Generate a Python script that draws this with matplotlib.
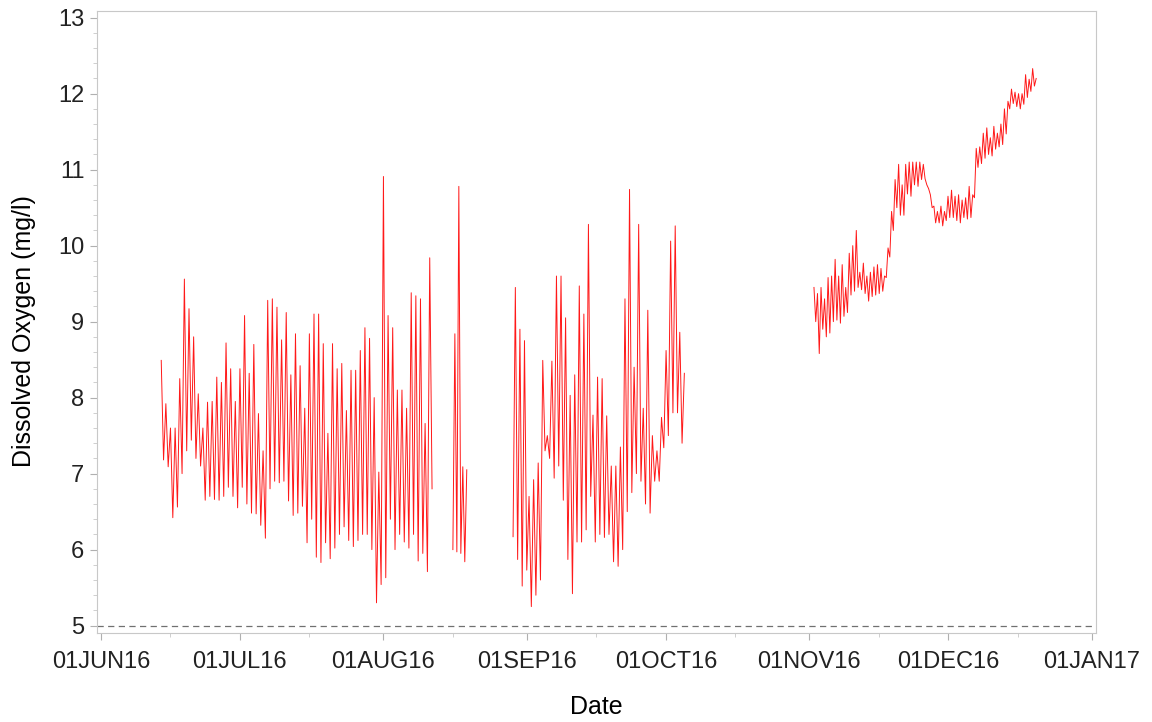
import matplotlib
matplotlib.use("Agg")
import numpy as np
import pandas as pd
from matplotlib import pyplot as plt
import matplotlib.dates as mdates
from matplotlib.ticker import MultipleLocator

plt.rcParams['font.family'] = ['Liberation Sans', 'DejaVu Sans']

# Segment 1: 14JUN16 - 11AUG16, daily highs / lows (mg/l)
seg1_start, seg1_end = "2016-06-14", "2016-08-11 12:00"
seg1_high = [8.49, 7.92, 7.6, 7.6, 8.25, 9.56, 9.17, 8.8, 8.05, 7.6,
             7.94, 7.95, 8.27, 8.2, 8.72, 8.38, 7.95, 8.38, 9.08, 8.32,
             8.7, 7.79, 7.3, 9.28, 9.3, 9.19, 8.76, 9.12, 8.3, 8.84,
             8.42, 7.86, 8.84, 9.1, 9.1, 8.71, 7.53, 8.71, 8.38, 8.45,
             7.83, 8.36, 8.36, 8.62, 8.92, 8.78, 8.0, 7.02, 10.91, 9.08,
             8.92, 8.1, 8.1, 7.86, 9.38, 9.34, 9.3, 7.66, 9.84]
seg1_low = [7.18, 7.09, 6.42, 6.56, 7.0, 7.3, 7.44, 7.2, 7.1, 6.65,
            6.7, 6.66, 6.65, 6.7, 6.82, 6.7, 6.55, 6.82, 6.6, 6.48,
            6.47, 6.32, 6.15, 6.8, 6.9, 6.88, 6.9, 6.64, 6.45, 6.48,
            6.57, 6.09, 6.4, 5.9, 5.83, 6.09, 5.88, 6.02, 6.2, 6.3,
            6.12, 6.04, 6.12, 6.2, 6.2, 6.0, 5.3, 5.54, 5.63, 6.4,
            6.0, 6.2, 6.1, 6.02, 6.2, 5.85, 5.95, 5.71, 6.8]

# Segment 2: short burst mid August
seg2_start, seg2_end = "2016-08-16", "2016-08-19"
seg2_vals = [6.0, 8.84, 5.97, 10.78, 5.95, 7.09, 5.84, 7.05]

# Segment 3: 29AUG16 - 05OCT16
seg3_start, seg3_end = "2016-08-29", "2016-10-05"
seg3_high = [9.45, 8.9, 8.75, 6.7, 6.92, 7.14, 8.49, 7.5, 8.48, 9.6,
             9.6, 9.05, 8.03, 8.3, 9.47, 9.1, 10.28, 7.77, 8.27, 8.25,
             7.76, 7.1, 7.1, 7.35, 9.3, 10.74, 8.4, 10.28, 7.86, 9.15,
             7.5, 7.3, 7.74, 8.62, 10.06, 10.26, 8.86]
seg3_low = [5.87, 5.52, 5.73, 5.25, 5.4, 5.6, 7.3, 7.2, 6.94, 7.1,
            6.65, 5.87, 5.42, 6.1, 6.1, 6.26, 6.7, 6.1, 6.2, 6.16,
            6.2, 5.84, 5.78, 6.0, 6.5, 6.75, 7.0, 6.9, 6.6, 6.48,
            6.9, 6.9, 7.34, 7.5, 7.8, 7.8, 7.4]
seg3_first, seg3_last = 6.17, 8.32

# Segment 4: 02NOV16 - 20DEC16
seg4_start, seg4_end = "2016-11-02", "2016-12-20"
seg4_high = [9.45, 9.37, 9.45, 9.3, 9.58, 9.6, 9.82, 9.6, 9.75, 9.45,
             9.9, 10.0, 10.2, 9.65, 9.77, 9.6, 9.65, 9.72, 9.75, 9.7,
             9.6, 9.97, 10.45, 10.87, 11.07, 10.8, 11.07, 11.1, 11.1, 11.1,
             11.1, 11.07, 10.8, 10.67, 10.52, 10.45, 10.52, 10.45, 10.65, 10.73,
             10.65, 10.67, 10.6, 10.63, 10.78, 10.67, 11.28, 11.3, 11.48, 11.55,
             11.42, 11.57, 11.48, 11.6, 11.8, 11.9, 12.06, 12.02, 12.0, 12.0,
             12.25, 12.19, 12.33]
seg4_low = [9.0, 8.58, 8.9, 8.8, 8.85, 9.0, 9.02, 8.98, 9.07, 9.12,
            9.35, 9.4, 9.45, 9.42, 9.37, 9.27, 9.33, 9.35, 9.37, 9.4,
            9.58, 9.85, 10.2, 10.5, 10.4, 10.4, 10.68, 10.65, 10.8, 10.78,
            10.87, 10.88, 10.75, 10.5, 10.3, 10.3, 10.26, 10.33, 10.37, 10.37,
            10.33, 10.3, 10.37, 10.35, 10.37, 10.63, 11.03, 11.08, 11.15, 11.2,
            11.18, 11.27, 11.3, 11.33, 11.47, 11.8, 11.87, 11.83, 11.8, 11.86,
            11.95, 12.03, 12.1]
seg4_last = 12.2

threshold = 5
tick_dates = ["2016-06-01", "2016-07-01", "2016-08-01", "2016-09-01",
              "2016-10-01", "2016-11-01", "2016-12-01", "2017-01-01"]
tick_labels = ["01JUN16", "01JUL16", "01AUG16", "01SEP16",
               "01OCT16", "01NOV16", "01DEC16", "01JAN17"]


def zigzag(high, low, first=None, last=None):
    vals = []
    if first is not None:
        vals.append(first)
    for h, l in zip(high, low):
        vals += [h, l]
    if last is not None:
        vals.append(last)
    return vals


def series(start, end, vals):
    t = pd.date_range(start, end, periods=len(vals))
    return pd.Series(vals, index=t)


segments = [
    series(seg1_start, seg1_end, zigzag(seg1_high, seg1_low)),
    series(seg2_start, seg2_end, seg2_vals),
    series(seg3_start, seg3_end, zigzag(seg3_high, seg3_low, seg3_first, seg3_last)),
    series(seg4_start, seg4_end, zigzag(seg4_high, seg4_low, None, seg4_last)),
]

fig = plt.figure(figsize=(11.52, 7.22), dpi=100)
ax = fig.add_axes([0.0842, 0.123, 0.867, 0.862])

for s in segments:
    ax.plot(s.index, s.values, color='red', linewidth=0.7, alpha=0.9)

ax.axhline(threshold, color='#707070', linestyle=(0, (5, 3.5)), linewidth=0.9)

ax.set_xlim(pd.Timestamp("2016-05-31 03:00"), pd.Timestamp("2017-01-01 21:00"))
ax.set_ylim(4.9, 13.09)

ax.set_xticks(pd.to_datetime(tick_dates))
ax.set_xticklabels(tick_labels)
ax.xaxis.set_minor_locator(mdates.MonthLocator(bymonthday=16))
ax.yaxis.set_major_locator(MultipleLocator(1))
ax.yaxis.set_minor_locator(MultipleLocator(0.2))

for sp in ax.spines.values():
    sp.set_color('#c8c8c8')
ax.tick_params(which='major', length=5, color='#b0b0b0', labelsize=17, labelcolor='#222222')
ax.tick_params(axis='x', which='major', pad=8)
ax.tick_params(axis='y', which='major', pad=4)
ax.tick_params(which='minor', length=3, color='#c8c8c8')

ax.set_xlabel("Date", fontsize=18, labelpad=16)
ax.set_ylabel("Dissolved Oxygen (mg/l)", fontsize=18)
ax.yaxis.set_label_coords(-0.061, 0.485)

fig.savefig("out.png", dpi=100)
